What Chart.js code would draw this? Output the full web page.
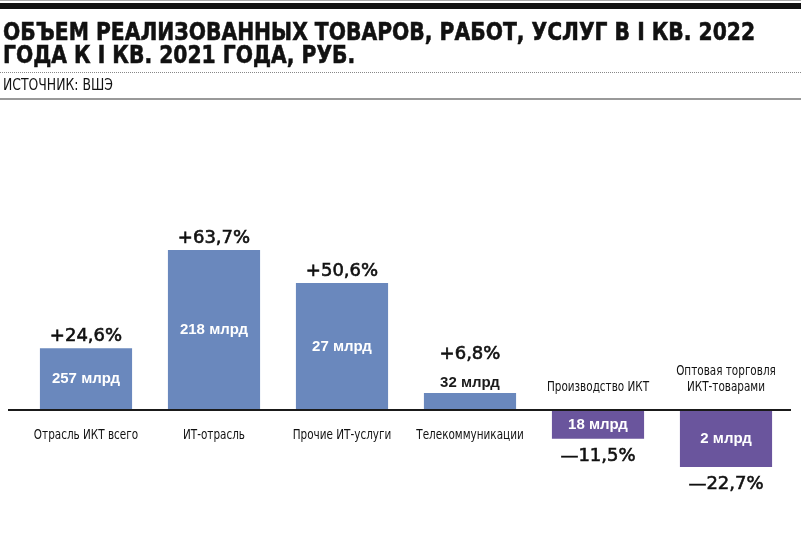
<!DOCTYPE html>
<html lang="ru">
<head>
<meta charset="utf-8">
<title>Объем реализованных товаров, работ, услуг</title>
<script src="https://cdn.jsdelivr.net/npm/chart.js@4.4.1/dist/chart.umd.min.js"></script>
<style>
  html, body { margin: 0; padding: 0; background: #fff; }
  body { width: 801px; height: 542px; position: relative; overflow: hidden; }
  .topline { position: absolute; left: 0; top: 0; width: 801px; height: 1px; background: #aaa; }
  .topbar { position: absolute; left: 0; top: 3px; width: 801px; height: 6px; background: #111; }
  h1 {
    position: absolute; left: 3px; top: 20.4px; margin: 0;
    font-family: "DejaVu Sans", sans-serif;
    font-weight: bold; font-size: 25px; line-height: 23px; color: #111;
    -webkit-text-stroke: 0.6px #111;
    text-transform: uppercase; white-space: nowrap;
    transform-origin: 0 0;
  }
  h1 span { display: inline-block; }
  .dots { position: absolute; left: 0; top: 72px; width: 801px; border-top: 1px dotted #888; }
  .source {
    position: absolute; left: 3px; top: 78.3px;
    font-family: "DejaVu Sans Condensed", sans-serif;
    font-size: 15px; line-height: 15px; color: #111;
    transform: scaleX(0.92); transform-origin: 0 0; white-space: nowrap;
  }
  .rule { position: absolute; left: 0; top: 98px; width: 801px; height: 2px; background: #999; }
  #chart { position: absolute; left: 0; top: 0; }
</style>
</head>
<body>
<canvas id="chart" width="801" height="542"></canvas>
<div class="topline"></div>
<div class="topbar"></div>
<h1 id="title"><span id="t1">Объем реализованных товаров, работ, услуг в I кв. 2022</span><br><span>года к I кв. 2021 года, руб.</span></h1>
<div class="dots"></div>
<div class="source">ИСТОЧНИК: ВШЭ</div>
<div class="rule"></div>

<script>
// данные
const categories = [
  ["Отрасль ИКТ всего"],
  ["ИТ-отрасль"],
  ["Прочие ИТ-услуги"],
  ["Телекоммуникации"],
  ["Производство ИКТ"],
  ["Оптовая торговля", "ИКТ-товарами"]
];
const changes = [24.6, 63.7, 50.6, 6.8, -11.5, -22.7];
const volumes = ["257 млрд", "218 млрд", "27 млрд", "32 млрд", "18 млрд", "2 млрд"];

const BLUE = "#6a88bd";
const PURPLE = "#6a559d";

// заголовок сжимаем до ширины оригинала
const t1 = document.getElementById("t1");
document.getElementById("title").style.transform = "scaleX(" + (752 / t1.offsetWidth) + ")";

function fmtChange(v) {
  const s = Math.abs(v).toFixed(1).replace(".", ",") + "%";
  return (v >= 0 ? "+" : "—") + s;
}

function narrowText(ctx, txt, x, y, sx) {
  ctx.save();
  ctx.translate(x, y);
  ctx.scale(sx, 1);
  ctx.fillText(txt, 0, 0);
  ctx.restore();
}

// подписи и базовая линия
const labelsPlugin = {
  id: "labels",
  afterDatasetsDraw(chart) {
    const ctx = chart.ctx;
    const xs = chart.scales.x;
    const ys = chart.scales.y;
    const y0 = ys.getPixelForValue(0);

    ctx.save();
    // базовая линия
    ctx.strokeStyle = "#1a1a1a";
    ctx.lineWidth = 2;
    ctx.beginPath();
    ctx.moveTo(8, y0);
    ctx.lineTo(791, y0);
    ctx.stroke();

    ctx.textAlign = "center";
    ctx.textBaseline = "middle";

    changes.forEach((v, i) => {
      const x = xs.getPixelForValue(i);
      const yv = ys.getPixelForValue(v);
      const h = Math.abs(y0 - yv);
      const small = h < 25;

      // объем
      ctx.font = "bold 15px 'Liberation Sans', Arial, sans-serif";
      let volY;
      if (small) {
        ctx.fillStyle = "#1a1a1a";
        volY = (v >= 0 ? yv - 10 : yv + 10);
      } else {
        ctx.fillStyle = "#fff";
        volY = (y0 + yv) / 2;
      }
      ctx.fillText(volumes[i], x, volY);

      // изменение, %
      ctx.font = "18px 'DejaVu Sans', sans-serif";
      ctx.fillStyle = "#111";
      ctx.strokeStyle = "#111";
      ctx.lineWidth = 0.6;
      let chY;
      if (v >= 0) chY = (small ? volY : yv) - (small ? 29 : 12);
      else chY = yv + 17;
      const txt = fmtChange(v);
      ctx.fillText(txt, x, chY);
      ctx.strokeText(txt, x, chY);

      // категория
      ctx.font = "14.5px 'DejaVu Sans Condensed', sans-serif";
      ctx.fillStyle = "#111";
      const lines = categories[i];
      const lh = 16;
      lines.forEach((ln, k) => {
        let ly;
        if (v >= 0) ly = y0 + 25 + k * lh;
        else ly = y0 - 23 - (lines.length - 1 - k) * lh;
        narrowText(ctx, ln, x, ly, 0.8);
      });
    });
    ctx.restore();
  }
};

new Chart(document.getElementById("chart"), {
  type: "bar",
  data: {
    labels: categories,
    datasets: [{
      data: changes,
      backgroundColor: changes.map(v => (v >= 0 ? BLUE : PURPLE)),
      borderWidth: 0,
      categoryPercentage: 1,
      barPercentage: 0.72
    }]
  },
  options: {
    responsive: false,
    animation: false,
    layout: { padding: { left: 22, right: 11, top: 159, bottom: 31.6 } },
    plugins: { legend: { display: false }, tooltip: { enabled: false } },
    scales: {
      x: { display: false },
      y: { display: false, min: -40, max: 100 }
    }
  },
  plugins: [labelsPlugin]
});
</script>
</body>
</html>
